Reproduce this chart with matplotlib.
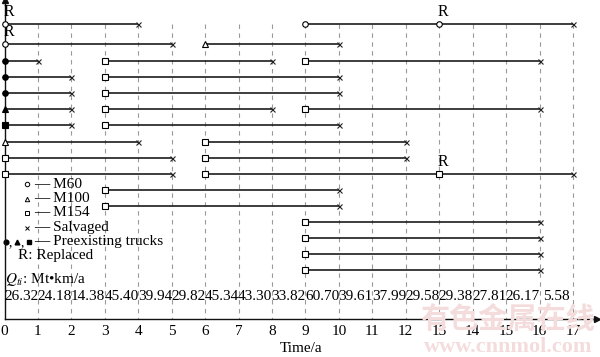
import matplotlib
matplotlib.use("Agg")
import matplotlib.pyplot as plt

plt.rcParams['font.family'] = ['Liberation Serif', 'DejaVu Serif']
plt.rcParams['mathtext.fontset'] = 'stix'

# ---------------- data ----------------
years = list(range(18))
q_values = ["26.32", "24.18", "14.38", "45.40", "39.94", "29.82", "45.34", "43.30",
            "33.82", "60.70", "39.61", "37.99", "29.58", "29.38", "27.81", "26.17", "5.58"]

# each truck: row index, start year, end year, model, preexisting?, replaced years (R labels)
truck_rows   = [0, 0, 1, 1, 2, 2, 2, 3, 3, 4, 4, 5, 5, 5, 6, 6, 7, 7, 8, 8, 9, 9, 10, 11, 12, 13, 14, 15]
truck_start  = [0, 9, 0, 6, 0, 3, 9, 0, 3, 0, 3, 0, 3, 9, 0, 3, 0, 6, 0, 6, 0, 6, 3, 3, 9, 9, 9, 9]
truck_end    = [4, 17, 5, 10, 1, 8, 16, 2, 10, 2, 10, 2, 8, 16, 2, 10, 4, 12, 5, 12, 5, 17, 10, 10, 16, 16, 16, 16]
truck_model  = ["M60", "M60", "M60", "M100", "M60", "M154", "M154", "M60", "M154", "M60", "M154",
                "M100", "M154", "M154", "M154", "M154", "M100", "M154", "M154", "M154", "M154", "M154",
                "M154", "M154", "M154", "M154", "M154", "M154"]
truck_pre    = [False, False, False, False, True, False, False, True, False, True, False,
                True, False, False, True, False, False, False, False, False, False, False,
                False, False, False, False, False, False]
truck_R      = [[0], [13], [0], [], [], [], [], [], [], [], [], [], [], [], [], [], [], [], [], [], [], [13],
                [], [], [], [], [], []]

legend_models = ["M60", "M100", "M154"]

# ---------------- styles ----------------
marker_of = {"M60": "o", "M100": "^", "M154": "s"}
msize_of = {"M60": 4.0, "M100": 4.2, "M154": 4.0}
line_col = "#1c1c1c"

def row_y(r):
    # vertical pixel position of a row (axis units = pixels from top)
    return 24 if r == 0 else (44 if r == 1 else 61 + 16.1 * (r - 2))

W_PX, H_PX = 600, 357
axis_y_px = 319
x0_px, xscale = 4.5, 33.44

fig = plt.figure(figsize=(6, 3.57), dpi=100)
ax = fig.add_axes([x0_px / W_PX, (H_PX - axis_y_px) / H_PX,
                   (597 - x0_px) / W_PX, axis_y_px / H_PX])
ax.set_xlim(0, (597 - x0_px) / xscale)
ax.set_ylim(axis_y_px, 0)

for s in ["top", "right"]:
    ax.spines[s].set_visible(False)
for s in ["left", "bottom"]:
    ax.spines[s].set_linewidth(1.0)
    ax.spines[s].set_color("#111111")
ax.plot(1, 0, ">", color="#111111", ms=4, transform=ax.transAxes, clip_on=False)
ax.plot(0, 1, "^", color="#111111", ms=4, transform=ax.transAxes, clip_on=False)

ax.set_xticks(years)
ax.set_xticklabels([str(y) for y in years])
ax.tick_params(axis="x", length=0, pad=4, labelsize=11)
ax.set_yticks([])
ax.set_xlabel("Time/a", fontsize=11, labelpad=3.5)

# dashed guides
ax.vlines(years[1:], row_y(0), axis_y_px, colors="#9a9a9a", linestyles=(0, (4, 4)), lw=0.8, zorder=1)

# trucks
for r, s, e, m, pre, reps in zip(truck_rows, truck_start, truck_end, truck_model, truck_pre, truck_R):
    y = row_y(r)
    ax.plot([s, e], [y, y], color=line_col, lw=1.2, zorder=2, solid_capstyle="butt")
    ax.plot(s, y, marker=marker_of[m], ms=msize_of[m], mfc=("black" if pre else "white"),
            mec="black", mew=0.8, zorder=4, clip_on=False)
    ax.plot(e, y, marker="x", ms=3.6, mec="#222222", mew=0.8, zorder=4, clip_on=False)
    for rt in reps:
        if rt != s:
            ax.plot(rt, y, marker=marker_of[m], ms=msize_of[m], mfc="white",
                    mec="black", mew=0.8, zorder=4)
        ax.text(rt + 0.12, y - 4, "R", fontsize=11.5, ha="center", va="bottom")

# legend
leg_y = [184, 198.5, 213, 227.5]
for yy, m in zip(leg_y[:3], legend_models):
    ax.plot(0.68, yy, marker=marker_of[m], ms=3.2, mfc="white", mec="black", mew=0.7)
    ax.text(0.9, yy, "— " + m, fontsize=11, va="center", ha="left")
ax.plot(0.68, leg_y[3], marker="x", ms=3, mec="black", mew=0.7)
ax.text(0.9, leg_y[3], "— Salvaged", fontsize=11, va="center", ha="left")
pre_y = 242
for xx, mk in zip([0.03, 0.38, 0.74], ["o", "^", "s"]):
    ax.plot(xx, pre_y, marker=mk, ms=3.4, color="black", clip_on=False)
for xx in [0.17, 0.53]:
    ax.text(xx, pre_y + 1, ",", fontsize=10, va="center", ha="center")
ax.text(0.9, pre_y, "— Preexisting trucks", fontsize=11, va="center", ha="left")
ax.text(0.4, 256, "R: Replaced", fontsize=11, va="center", ha="left")

# Q values
ax.text(0.02, 280, "$Q_{ti}$: Mt•km/a", fontsize=11, va="center", ha="left")
for i, q in enumerate(q_values):
    ax.text(years[i] + 0.5, 297, q, fontsize=11, va="center", ha="center")

# watermark (faint, behind everything)
fig.text(508 / W_PX, 1 - 319 / H_PX, "有色金属在线", fontsize=21, color="#f4dcdc",
         family=["Noto Sans CJK SC"], weight="bold", ha="center", va="center", zorder=0)
fig.text(508 / W_PX, 1 - 347 / H_PX, "www.cnnmol.com", fontsize=16, color="#f4dcdc",
         weight="bold", ha="center", va="center", zorder=0)

fig.savefig("out.png", dpi=100)
